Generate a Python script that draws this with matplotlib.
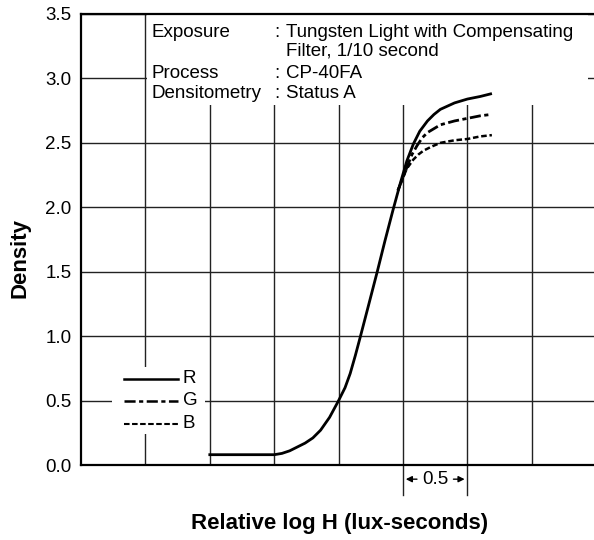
import matplotlib.pyplot as plt
from matplotlib.patches import Rectangle

plt.rcParams['font.family'] = ['Liberation Sans', 'DejaVu Sans']
plt.rcParams['lines.scale_dashes'] = False

# relative log H (0.5 per grid cell) and density
r_x = [1.0, 1.5, 1.56, 1.62, 1.68, 1.74, 1.80, 1.86, 1.93, 2.0, 2.05, 2.09, 2.13, 2.17, 2.23,
       2.30, 2.36, 2.42, 2.48, 2.53, 2.58, 2.63, 2.69, 2.74, 2.79, 2.90, 3.0, 3.10, 3.18]
r_y = [0.08, 0.08, 0.09, 0.11, 0.14, 0.17, 0.21, 0.27, 0.37, 0.50, 0.60, 0.71, 0.85, 1.0, 1.23,
       1.50, 1.74, 1.97, 2.19, 2.36, 2.49, 2.59, 2.67, 2.72, 2.76, 2.81, 2.84, 2.86, 2.88]
g_x = [2.46, 2.50, 2.53, 2.57, 2.61, 2.65, 2.69, 2.74, 2.79, 2.90, 3.0, 3.10, 3.18]
g_y = [2.13, 2.23, 2.31, 2.41, 2.48, 2.54, 2.58, 2.61, 2.64, 2.67, 2.69, 2.71, 2.72]
b_x = [2.46, 2.50, 2.53, 2.58, 2.62, 2.66, 2.72, 2.79, 2.90, 3.0, 3.10, 3.19]
b_y = [2.13, 2.23, 2.30, 2.37, 2.41, 2.44, 2.47, 2.50, 2.52, 2.53, 2.55, 2.56]

yticks = [0.0, 0.5, 1.0, 1.5, 2.0, 2.5, 3.0, 3.5]
info_keys = ['Exposure', '', 'Process', 'Densitometry']
info_vals = ['Tungsten Light with Compensating', 'Filter, 1/10 second', 'CP-40FA', 'Status A']

fig = plt.figure(figsize=(5.94, 5.4), dpi=100)
ax = fig.add_axes([81 / 594, 75 / 540, 513 / 594, 451 / 540])
ax.set_xlim(0, 513 / 128.8)
ax.set_ylim(0, 3.5)

ax.set_xticks([0.5, 1.0, 1.5, 2.0, 2.5, 3.0, 3.5])
ax.set_xticklabels([])
ax.set_yticks(yticks)
ax.set_yticklabels([f'{v:.1f}' for v in yticks], fontsize=13.5)
ax.tick_params(length=0, pad=7)
ax.set_axisbelow(True)
ax.grid(True, color='#222222', linewidth=1.0)
ax.spines['right'].set_visible(False)
for s in ['left', 'bottom', 'top']:
    ax.spines[s].set_linewidth(1.6)

# white areas that hide the grid behind the notes and the legend
ax.add_patch(Rectangle((0.51, 2.79), 3.43, 0.71, facecolor='white', edgecolor='none', zorder=1))
ax.add_patch(Rectangle((0.24, 0.24), 0.72, 0.52, facecolor='white', edgecolor='none', zorder=1))

ax.plot(r_x, r_y, color='black', lw=2.0, zorder=3)
ax.plot(g_x, g_y, color='black', lw=2.0, dashes=(8, 2.5, 3, 2.5), zorder=3)
ax.plot(b_x, b_y, color='black', lw=1.8, dashes=(4, 2), zorder=3)

# notes block
note_y = [3.36, 3.21, 3.04, 2.88]
for k, v, yy in zip(info_keys, info_vals, note_y):
    if k:
        ax.text(0.55, yy, k, fontsize=13.5, va='center', zorder=4)
        ax.text(1.50, yy, ':', fontsize=13.5, va='center', zorder=4)
    ax.text(1.59, yy, v, fontsize=13.5, va='center', zorder=4)

# legend
for lab, yy, kw in [('R', 0.67, dict(lw=1.8)),
                    ('G', 0.5, dict(lw=1.8, dashes=(8, 2.5, 3, 2.5))),
                    ('B', 0.32, dict(lw=1.5, dashes=(4, 1.8)))]:
    ax.plot([0.33, 0.75], [yy, yy], color='black', zorder=3, **kw)
    ax.text(0.79, yy, lab, fontsize=13.5, va='center', zorder=4)

# 0.5 scale marker below the axis
for xx in [2.5, 3.0]:
    ax.plot([xx, xx], [0, -0.235], color='#222222', lw=1.0, clip_on=False)
ax.text(2.75, -0.11, '0.5', fontsize=13.5, ha='center', va='center')
ax.annotate('', xy=(2.5, -0.11), xytext=(2.63, -0.11),
            arrowprops=dict(arrowstyle='-|>', color='black', lw=1.0, mutation_scale=9),
            annotation_clip=False)
ax.annotate('', xy=(3.0, -0.11), xytext=(2.87, -0.11),
            arrowprops=dict(arrowstyle='-|>', color='black', lw=1.0, mutation_scale=9),
            annotation_clip=False)

fig.text(20 / 594, 1 - 258 / 540, 'Density', rotation=90, fontsize=16,
         fontweight='bold', ha='center', va='center')
fig.text(340 / 594, 1 - 523 / 540, 'Relative log H (lux-seconds)', fontsize=16,
         fontweight='bold', ha='center', va='center')

fig.savefig('out.png', dpi=100)
